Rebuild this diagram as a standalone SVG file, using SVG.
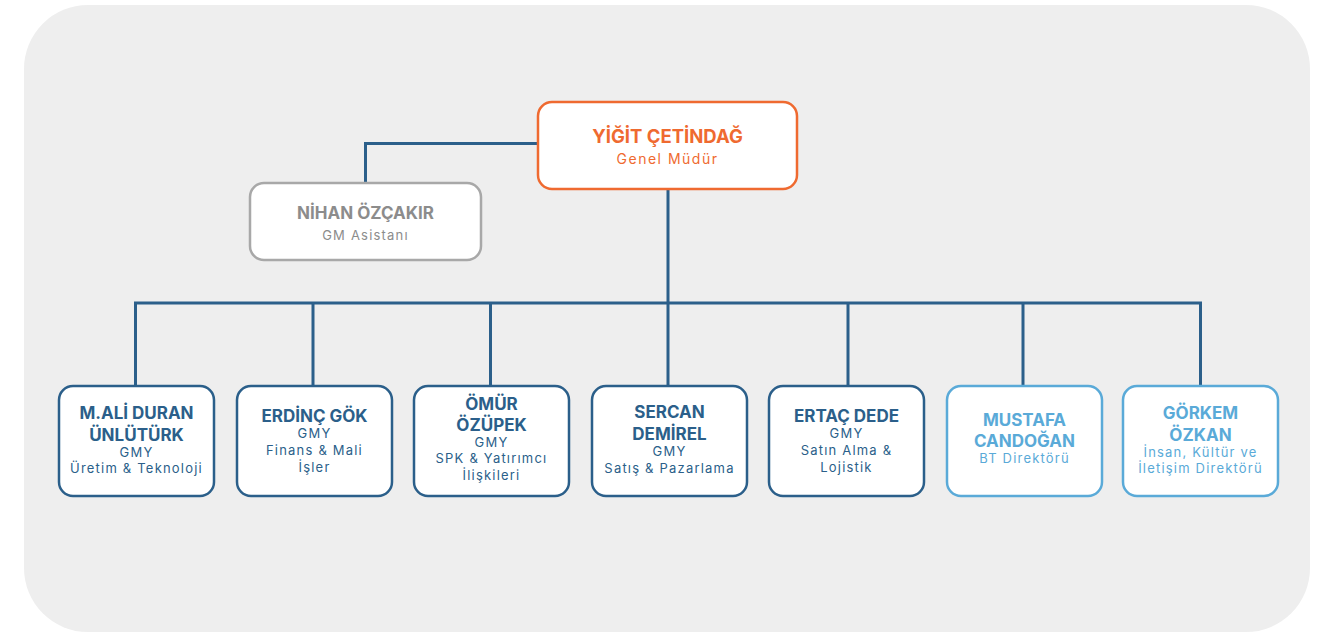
<svg xmlns="http://www.w3.org/2000/svg" width="1332" height="632" viewBox="0 0 1332 632">
<style>
.bg{fill:#eeeeee}
.box{fill:#ffffff;stroke-width:2.5}
.dark{stroke:#2b5f8a}
.light{stroke:#5aaad8}
.orange{stroke:#ef6a30}
.grey{stroke:#a8a8a8}
.conn{fill:none;stroke:#2b5f8a;stroke-width:3}
text{font-family:Inter,"Noto Sans","Liberation Sans",sans-serif;text-anchor:middle}
.n{font-weight:700;font-size:17px}
.s{font-size:13px;letter-spacing:1.2px}
.td{fill:#2b5f8a}
.tl{fill:#5aaad8}
.to{fill:#ef6a30}
.tg{fill:#8c8c8c}
</style>
<rect class="bg" x="24" y="5" width="1286" height="627" rx="64"/>
<g id="connectors">
<path class="conn" d="M668 189 V303"/>
<path class="conn" d="M538 143.5 H365.5 V183"/>
<path class="conn" d="M135.5 386 V303 H1200.5 V386"/>
<path class="conn" d="M313 303 V386 M490.5 303 V386 M668 303 V386 M848 303 V386 M1023 303 V386"/>
</g>
<g id="ceo">
<rect class="box orange" x="538" y="102" width="259" height="87" rx="14"/>
<text class="n to" x="667.5" y="143" style="font-size:18.5px">YİĞİT ÇETİNDAĞ</text>
<text class="s to" x="667.5" y="164" style="font-size:14px;letter-spacing:1.5px">Genel Müdür</text>
</g>
<g id="assistant">
<rect class="box grey" x="250" y="183" width="231" height="77" rx="14"/>
<text class="n tg" x="365.5" y="219">NİHAN ÖZÇAKIR</text>
<text class="s tg" x="365.5" y="239.5">GM Asistanı</text>
</g>
<g id="n1">
<rect class="box dark" x="59" y="386" width="155" height="110" rx="14"/>
<text class="n td" x="136.5" y="419.3">M.ALİ DURAN</text>
<text class="n td" x="136.5" y="441">ÜNLÜTÜRK</text>
<text class="s td" x="136.5" y="457.3">GMY</text>
<text class="s td" x="136.5" y="473.3">Üretim &amp; Teknoloji</text>
</g>
<g id="n2">
<rect class="box dark" x="237" y="386" width="155" height="110" rx="14"/>
<text class="n td" x="314.5" y="421.7">ERDİNÇ GÖK</text>
<text class="s td" x="314.5" y="438.3">GMY</text>
<text class="s td" x="314.5" y="455">Finans &amp; Mali</text>
<text class="s td" x="314.5" y="471.7">İşler</text>
</g>
<g id="n3">
<rect class="box dark" x="414" y="386" width="155" height="110" rx="14"/>
<text class="n td" x="491.5" y="410">ÖMÜR</text>
<text class="n td" x="491.5" y="431">ÖZÜPEK</text>
<text class="s td" x="491.5" y="446.7">GMY</text>
<text class="s td" x="491.5" y="463.3">SPK &amp; Yatırımcı</text>
<text class="s td" x="491.5" y="480">İlişkileri</text>
</g>
<g id="n4">
<rect class="box dark" x="592" y="386" width="155" height="110" rx="14"/>
<text class="n td" x="669.5" y="417.7">SERCAN</text>
<text class="n td" x="669.5" y="440">DEMİREL</text>
<text class="s td" x="669.5" y="456">GMY</text>
<text class="s td" x="669.5" y="472.7">Satış &amp; Pazarlama</text>
</g>
<g id="n5">
<rect class="box dark" x="769" y="386" width="155" height="110" rx="14"/>
<text class="n td" x="846.5" y="421.7">ERTAÇ DEDE</text>
<text class="s td" x="846.5" y="438.3">GMY</text>
<text class="s td" x="846.5" y="455">Satın Alma &amp;</text>
<text class="s td" x="846.5" y="471.7">Lojistik</text>
</g>
<g id="n6">
<rect class="box light" x="947" y="386" width="155" height="110" rx="14"/>
<text class="n tl" x="1024.5" y="425.7">MUSTAFA</text>
<text class="n tl" x="1024.5" y="446.7">CANDOĞAN</text>
<text class="s tl" x="1024.5" y="463.3">BT Direktörü</text>
</g>
<g id="n7">
<rect class="box light" x="1123" y="386" width="155" height="110" rx="14"/>
<text class="n tl" x="1200.5" y="419">GÖRKEM</text>
<text class="n tl" x="1200.5" y="441">ÖZKAN</text>
<text class="s tl" x="1200.5" y="457.3">İnsan, Kültür ve</text>
<text class="s tl" x="1200.5" y="473.3">İletişim Direktörü</text>
</g>
</svg>
